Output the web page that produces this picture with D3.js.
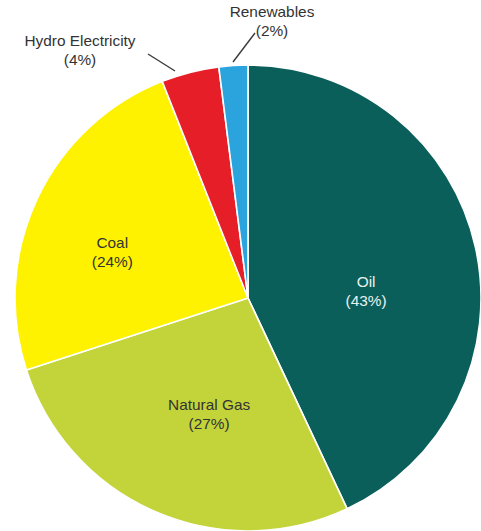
<!DOCTYPE html>
<html>
<head>
<meta charset="utf-8">
<script src="https://cdn.jsdelivr.net/npm/d3@7/dist/d3.min.js"></script>
<style>
  html, body { margin: 0; padding: 0; background: #ffffff; }
  svg { display: block; }
  text { font-family: Arial, "Liberation Sans", sans-serif; }
</style>
</head>
<body>
<svg id="chart" width="481" height="531"></svg>
<script>
// Share of primary energy consumption by source
const sources = ["Oil", "Natural Gas", "Coal", "Hydro Electricity", "Renewables"];
const shares = [43, 27, 24, 4, 2];
const colors = ["#0b5f5b", "#c3d43b", "#fef200", "#e61e27", "#2ba4de"];

const width = 481, height = 531;
const cx = 248, cy = 298, radius = 233;

const svg = d3.select("#chart");
const g = svg.append("g").attr("transform", `translate(${cx},${cy})`);

const data = sources.map((name, i) => ({ name, value: shares[i], color: colors[i] }));

const pie = d3.pie().value(d => d.value).sort(null);
const arc = d3.arc().innerRadius(0).outerRadius(radius);
const arcs = pie(data);

g.selectAll("path.slice")
  .data(arcs)
  .join("path")
  .attr("class", "slice")
  .attr("d", arc)
  .attr("fill", d => d.data.color)
  .attr("stroke", "#ffffff")
  .attr("stroke-width", 1.6)
  .attr("stroke-linejoin", "round");

// Inside labels: placed along each slice's mid-angle
const inside = {
  "Oil":         { r: 121, dy: 20, fill: "#e6f2f0" },
  "Natural Gas": { r: 98,  dy: 27, fill: "#333333" },
  "Coal":        { r: 150, dy: 19, fill: "#333333" }
};
// Outside labels with leader lines
const outside = {
  "Hydro Electricity": { x: 80 - cx, y: 51 - cy, line: [[148 - cx, 54 - cy], [175 - cx, 71 - cy]] },
  "Renewables":        { x: 272 - cx, y: 22 - cy, line: [[255 - cx, 33 - cy], [233 - cx, 62 - cy]] }
};

const fontSize = 14;
const lineGap = 19;
const stretch = 1.1;

arcs.forEach(a => {
  const name = a.data.name;
  const pct = `(${a.data.value}%)`;
  let x, y, fill;
  if (inside[name]) {
    const cfg = inside[name];
    const mid = (a.startAngle + a.endAngle) / 2;
    x = Math.sin(mid) * cfg.r;
    y = -Math.cos(mid) * cfg.r + cfg.dy;
    fill = cfg.fill;
  } else {
    const cfg = outside[name];
    x = cfg.x; y = cfg.y; fill = "#333333";
    g.append("line")
      .attr("x1", cfg.line[0][0]).attr("y1", cfg.line[0][1])
      .attr("x2", cfg.line[1][0]).attr("y2", cfg.line[1][1])
      .attr("stroke", "#3a3a3a")
      .attr("stroke-width", 1.4);
  }
  const t = g.append("text")
    .attr("text-anchor", "middle")
    .attr("fill", fill)
    .attr("font-size", fontSize)
    .attr("transform", `translate(${x},${y}) scale(${stretch},1)`);
  t.append("tspan").attr("x", 0).attr("y", -5).text(name);
  t.append("tspan").attr("x", 0).attr("y", -5 + lineGap).text(pct);
});
</script>
</body>
</html>
